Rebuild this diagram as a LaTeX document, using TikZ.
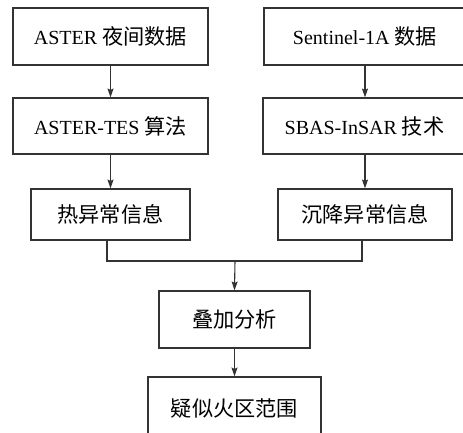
\documentclass[tikz,border=0pt]{standalone}
\usepackage{fontspec}
\setmainfont{Liberation Serif}
\newfontfamily\cjk[Scale=1.06]{Noto Sans CJK SC}
\usetikzlibrary{arrows.meta}
\begin{document}
\begin{tikzpicture}[x=1pt,y=-1pt,
  box/.style={draw=black!80, line width=1.1pt, rectangle, inner sep=0pt, align=center,
    font=\fontsize{20}{22}\selectfont},
  link/.style={draw=black!80, line width=1.1pt},
  arr/.style={link, -{Stealth[length=9pt,width=6pt,inset=1.5pt]}}]
\useasboundingbox (0,0) rectangle (463,432);
\node[box, minimum width=195pt, minimum height=57pt] (b1) at (110.5,36.5) {ASTER {\cjk 夜间数据}};
\node[box, minimum width=202pt, minimum height=57pt] (b2) at (365,36.5) {Sentinel-1A {\cjk 数据}};
\node[box, minimum width=195pt, minimum height=56pt] (b3) at (110.5,126) {ASTER-TES {\cjk 算法}};
\node[box, minimum width=203pt, minimum height=56pt] (b4) at (364.5,126) {SBAS-InSAR {\cjk 技术}};
\node[box, minimum width=159pt, minimum height=51pt] (b5) at (110.5,214.5) {\cjk 热异常信息};
\node[box, minimum width=174pt, minimum height=51pt] (b6) at (365,214.5) {\cjk 沉降异常信息};
\node[box, minimum width=151pt, minimum height=57pt] (b7) at (234.5,319.5) {\cjk 叠加分析};
\node[box, minimum width=173pt, minimum height=62pt] (b8) at (234.5,408) {\cjk 疑似火区范围};
\coordinate (j) at (235,261);
\draw[arr] (b1.south) -- (b3.north);
\draw[arr] (b2.south) -- (b4.north -| b2.south);
\draw[arr] (b3.south) -- (b5.north);
\draw[arr] (b4.south -| b2.south) -- (b6.north);
\draw[link] ([xshift=-3.5pt]b5.south) |- (j);
\draw[link] ([xshift=-3pt]b6.south) |- (j);
\draw[arr] (j) -- (b7.north);
\draw[arr] (b7.south) -- (b8.north);
\end{tikzpicture}
\end{document}
